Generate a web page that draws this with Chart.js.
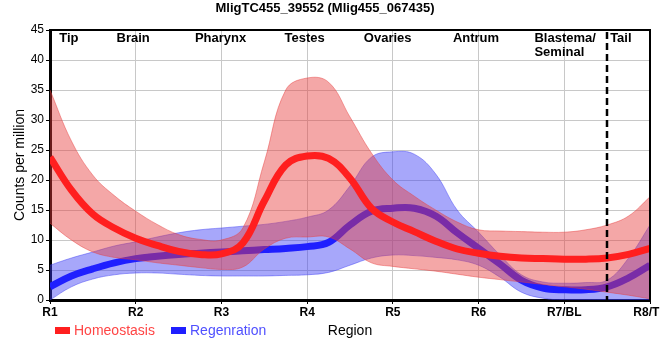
<!DOCTYPE html>
<html lang="en">
<head>
    <meta charset="UTF-8">
    <title>MligTC455_39552</title>
    <script src="https://cdn.jsdelivr.net/npm/chart.js"></script>
    <style>
        body { margin: 0; background: #fff; }
        #wrap { width: 660px; height: 360px; }
    </style>
</head>
<body>
    <div id="wrap"><canvas id="chart" width="660" height="360"></canvas></div>

    <script>
        // categories along the worm, and names shown across the top
        const regions = ["R1", "R2", "R3", "R4", "R5", "R6", "R7/BL", "R8/TL"];
        const regionNames = ["Tip", "Brain", "Pharynx", "Testes", "Ovaries", "Antrum", "Blastema/\nSeminal", "Tail"];

        // sample positions (in region units) where values were read
        const xs = [1, 1.25, 1.5, 1.75, 2, 2.25, 2.5, 2.75, 3, 3.25, 3.5, 3.75, 4, 4.25, 4.5,
                    4.75, 5, 5.25, 5.5, 5.75, 6, 6.25, 6.5, 6.75, 7, 7.25, 7.5, 7.75, 8];

        const homeoMean  = [23.8, 18.3, 14.3, 12, 10.3, 9.1, 8.1, 7.6, 7.7, 9.5, 16.5, 22.5, 24, 23.6, 20.3,
                            15.3, 13, 11.4, 9.8, 8.5, 7.8, 7.3, 7.0, 6.9, 6.8, 6.8, 7.0, 7.6, 8.6];
        const homeoUpper = [35, 26.5, 20.8, 17.4, 14.8, 12.6, 10.9, 10.1, 10, 12, 23, 35, 37, 36.3, 30.5,
                            24.5, 20, 17.3, 15, 13, 11.7, 11.5, 11.4, 11.3, 11.3, 11.7, 12.5, 14, 17.2];
        const homeoLower = [12.8, 10, 8, 7.1, 6.7, 6.2, 5.8, 5.4, 5.1, 5.5, 8.5, 10.3, 10.5, 10.5, 8.5,
                            6.2, 5.6, 5.2, 4.8, 4.3, 3.8, 3.4, 3.0, 2.6, 2.2, 1.8, 1.3, 0.8, 0.2];

        const regenMean  = [2.2, 4.0, 5.2, 6.2, 6.9, 7.3, 7.6, 7.8, 8.0, 8.2, 8.4, 8.6, 8.9, 9.6, 12.5,
                            14.8, 15.3, 15.3, 14, 11.2, 8.6, 6, 3.3, 2.0, 1.7, 1.7, 2.2, 3.7, 5.8];
        const regenUpper = [5.8, 7.0, 8.0, 9.0, 9.7, 10.5, 11.2, 11.7, 12, 12.3, 12.6, 13.1, 13.8, 15, 19,
                            23.8, 24.7, 24.3, 21, 15, 11.3, 7.5, 4.2, 3.0, 2.8, 2.9, 3.3, 7, 12.5];
        const regenLower = [0, 2.2, 3.5, 4.2, 4.5, 4.5, 4.3, 4.1, 4.0, 4.0, 4.0, 4.1, 4.2, 4.6, 5.8,
                            7.0, 7.5, 7.4, 7.1, 6.7, 5.8, 3.8, 1.3, 0.3, 0, 0, 0, 0, 0];

        const yTicks = [0, 5, 10, 15, 20, 25, 30, 35, 40, 45];

        const pts = arr => arr.map((v, i) => ({ x: xs[i], y: v }));

        const RED_BAND = "rgba(230, 60, 60, 0.45)";
        const BLUE_BAND = "rgba(60, 60, 245, 0.45)";

        function bandLine(label, arr, color, fill) {
            return {
                label: label, data: pts(arr), borderColor: color, borderWidth: 1,
                backgroundColor: color, fill: fill, pointRadius: 0, tension: 0.4
            };
        }

        // order matters: index 0 ends up drawn on top
        const datasets = [
            { label: "Homeostasis", data: pts(homeoMean), borderColor: "#ff1f1f", borderWidth: 7,
              pointRadius: 0, fill: false, tension: 0.4 },
            bandLine("hUp", homeoUpper, RED_BAND, "+1"),
            bandLine("hLo", homeoLower, RED_BAND, false),
            { label: "Regenration", data: pts(regenMean), borderColor: "#1f1fff", borderWidth: 7,
              pointRadius: 0, fill: false, tension: 0.4 },
            bandLine("rUp", regenUpper, BLUE_BAND, "+1"),
            bandLine("rLo", regenLower, BLUE_BAND, false)
        ];

        const extras = {
            id: "extras",
            afterDatasetsDraw(chart) {
                const { ctx, chartArea: a, scales: { x } } = chart;
                ctx.save();

                // blastema / tail divider
                ctx.strokeStyle = "#000";
                ctx.lineWidth = 2.5;
                ctx.setLineDash([7, 4]);
                const dx = Math.round(x.getPixelForValue(7.5));
                ctx.beginPath();
                ctx.moveTo(dx, a.top + 2);
                ctx.lineTo(dx, a.bottom);
                ctx.stroke();
                ctx.setLineDash([]);

                // top and right frame
                ctx.lineWidth = 2;
                ctx.beginPath();
                ctx.moveTo(a.left, a.top);
                ctx.lineTo(a.right, a.top);
                ctx.lineTo(a.right, a.bottom);
                ctx.stroke();

                // region names along the top
                const at = [1.22, 1.97, 2.99, 3.97, 4.94, 5.97, 7.01, 7.66];
                ctx.font = "bold 13px 'Liberation Sans', Arial, sans-serif";
                ctx.fillStyle = "#000";
                ctx.textBaseline = "alphabetic";
                ctx.textAlign = "left";
                regionNames.forEach((name, i) => {
                    const lines = name.split("\n");
                    const cx = x.getPixelForValue(at[i]);
                    const left = cx - ctx.measureText(lines[0]).width / 2;
                    lines.forEach((ln, j) => ctx.fillText(ln, left, a.top + 12 + j * 14));
                });

                // legend, bottom left
                ctx.font = "14px 'Liberation Sans', Arial, sans-serif";
                ctx.textBaseline = "middle";
                ctx.fillStyle = "#ff1f1f";
                ctx.fillRect(55, 327, 15, 7);
                ctx.fillStyle = "#ff4545";
                ctx.fillText("Homeostasis", 74, 331);
                ctx.fillStyle = "#1f1fff";
                ctx.fillRect(171, 327, 15, 7);
                ctx.fillStyle = "#5050ff";
                ctx.fillText("Regenration", 190, 331);

                ctx.restore();
            }
        };

        const zeroPad = s => { s.paddingLeft = 0; s.paddingRight = 0; s.paddingTop = 0; s.paddingBottom = 0; };

        Chart.defaults.font.family = "'Liberation Sans', Arial, sans-serif";
        Chart.defaults.color = "#000";

        new Chart(document.getElementById("chart"), {
            type: "line",
            data: { datasets: datasets },
            options: {
                responsive: false,
                animation: false,
                layout: { padding: { right: 10 } },
                plugins: {
                    legend: { display: false },
                    tooltip: { enabled: false },
                    title: {
                        display: true,
                        text: "MligTC455_39552 (Mlig455_067435)",
                        font: { size: 13, weight: "bold" },
                        color: "#000",
                        padding: { top: 1, bottom: 13.4 }
                    }
                },
                scales: {
                    x: {
                        type: "linear", min: 1, max: 8,
                        afterBuildTicks: s => { s.ticks = regions.map((r, i) => ({ value: i + 1 })); },
                        ticks: {
                            callback: v => regions[v - 1],
                            font: { size: 12, weight: "bold" },
                            maxRotation: 0, padding: 1, autoSkip: false
                        },
                        grid: { color: "#c8c8c8", tickColor: "#000", tickLength: 4 },
                        border: { color: "#000", width: 3 },
                        title: {
                            display: true, text: "Region", font: { size: 14 },
                            padding: { top: 2, bottom: 20.6 }
                        },
                        afterFit: s => { s.height = 60; zeroPad(s); }
                    },
                    y: {
                        min: 0, max: 45,
                        afterBuildTicks: s => { s.ticks = yTicks.map(v => ({ value: v })); },
                        ticks: { font: { size: 12 }, padding: 2 },
                        grid: { color: "#c8c8c8", tickColor: "#000", tickLength: 4 },
                        border: { color: "#000", width: 3 },
                        title: {
                            display: true, text: "Counts per million", font: { size: 14 },
                            padding: { top: 12, bottom: 2 }
                        },
                        afterFit: s => { s.width = 50; zeroPad(s); }
                    }
                }
            },
            plugins: [extras]
        });
    </script>
</body>
</html>
